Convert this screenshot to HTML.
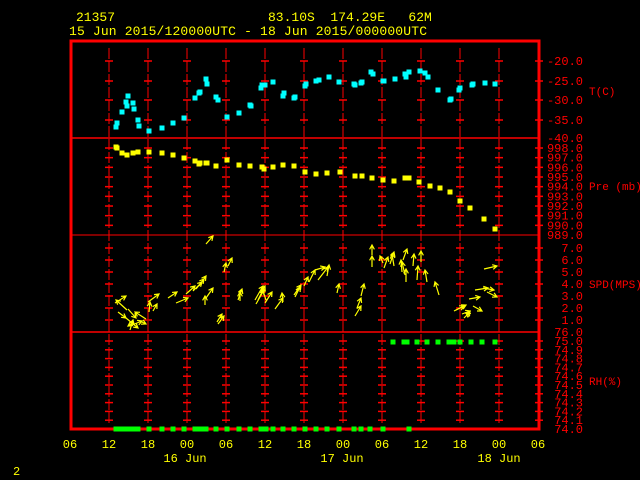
<!DOCTYPE html>
<html><head><style>
body{margin:0;background:#000;width:640px;height:480px;overflow:hidden}
svg{display:block}
text{font-family:"Liberation Mono",monospace;font-size:12px}
.t{font-size:13px}
.r{font-size:11px}
</style></head><body>
<svg width="640" height="480" viewBox="0 0 640 480" xmlns="http://www.w3.org/2000/svg">
<g fill="#ffff00" class="t">
<text x="76" y="21" class="t">21357</text>
<text x="268" y="21" class="t" xml:space="preserve">83.10S  174.29E   62M</text>
<text x="69" y="35" class="t" textLength="358">15 Jun 2015/120000UTC - 18 Jun 2015/000000UTC</text>
<text x="13" y="475">2</text>
</g>
<g stroke="#ff0000" fill="none">
<rect x="71" y="41" width="468" height="388" stroke-width="3"/>
<line x1="71" y1="138" x2="539" y2="138" stroke-width="1.5"/>
<line x1="71" y1="235" x2="539" y2="235" stroke-width="1"/>
<line x1="71" y1="332" x2="539" y2="332" stroke-width="1.5"/>
<g stroke-width="1" stroke-dasharray="11,2">
<line x1="109" y1="48" x2="109" y2="425"/>
<line x1="148" y1="48" x2="148" y2="425"/>
<line x1="187" y1="48" x2="187" y2="425"/>
<line x1="226" y1="48" x2="226" y2="425"/>
<line x1="265" y1="48" x2="265" y2="425"/>
<line x1="304" y1="48" x2="304" y2="425"/>
<line x1="343" y1="48" x2="343" y2="425"/>
<line x1="382" y1="48" x2="382" y2="425"/>
<line x1="421" y1="48" x2="421" y2="425"/>
<line x1="460" y1="48" x2="460" y2="425"/>
<line x1="499" y1="48" x2="499" y2="425"/>
</g>
</g>
<g id="ticks" stroke="#ff0000" stroke-width="1.5"></g>
<g fill="#ff0000" text-anchor="end" id="lab"></g>
<g fill="#ff0000">
<text x="589" y="95" class="r">T(C)</text>
<text x="589" y="190" class="r">Pre (mb)</text>
<text x="589" y="288" class="r">SPD(MPS)</text>
<text x="589" y="385" class="r">RH(%)</text>
</g>
<g fill="#ffff00" text-anchor="middle">
<text x="70" y="448">06</text><text x="109" y="448">12</text><text x="148" y="448">18</text>
<text x="187" y="448">00</text><text x="226" y="448">06</text><text x="265" y="448">12</text>
<text x="304" y="448">18</text><text x="343" y="448">00</text><text x="382" y="448">06</text>
<text x="421" y="448">12</text><text x="460" y="448">18</text><text x="499" y="448">00</text>
<text x="538" y="448">06</text>
<text x="185" y="462">16 Jun</text><text x="342" y="462">17 Jun</text><text x="499" y="462">18 Jun</text>
</g>
<g id="pts"></g>
<g id="arr" stroke="#ffff00" stroke-width="1.2" fill="none"></g>
</svg>
<script>
const NS="http://www.w3.org/2000/svg";
function el(p,t,a){const e=document.createElementNS(NS,t);for(const k in a)e.setAttribute(k,a[k]);document.getElementById(p).appendChild(e);return e;}
const xs=[109,148,187,226,265,304,343,382,421,460,499,539];
const ty=[61,81,100,120];
const py=[];for(let i=0;i<9;i++)py.push(148+i*9.67);
const sy=[];for(let i=0;i<7;i++)sy.push(248+i*12);
const ry=[];for(let i=0;i<10;i++)ry.push(341+i*8.8);
[...ty,...py,...sy,...ry].forEach(y=>xs.forEach(x=>el("ticks","line",{x1:x-4,x2:x+4,y1:y,y2:y})));
function lab(y,t){const e=el("lab","text",{x:583,y:y+4});e.textContent=t;}
["-20.0","-25.0","-30.0","-35.0"].forEach((t,i)=>lab(ty[i],t));lab(138,"-40.0");
[998,997,996,995,994,993,992,991,990].forEach((v,i)=>lab(py[i],v+".0"));lab(235,"989.0");
[7,6,5,4,3,2,1].forEach((v,i)=>lab(sy[i],v+".0"));lab(332,"76.0");
["75.0","74.9","74.8","74.7","74.6","74.5","74.4","74.3","74.2","74.1"].forEach((t,i)=>lab(ry[i],t));lab(429,"74.0");
function sq(x,y,c){el("pts","rect",{x:x-2.5,y:y-2.5,width:5,height:5,fill:c});}
[[116,127],[117,123],[122,112],[127,106],[126,102],[128,96],[133,103],[134,109],[138,120],[139,126],[149,131],[162,128],[173,123],[184,118],[195,98],[199,93],[200,92],[206,79],[207,84],[216,97],[218,100],[227,117],[239,113],[250,105],[251,106],[261,88],[262,85],[265,85],[273,82],[283,96],[284,93],[294,98],[295,97],[305,86],[306,84],[316,81],[319,80],[329,77],[339,82],[354,84],[355,85],[361,83],[362,82],[371,72],[373,74],[383,81],[384,81],[395,79],[405,74],[406,77],[409,72],[420,71],[425,73],[428,77],[438,90],[450,100],[451,99],[459,90],[460,88],[472,85],[473,84],[485,83],[495,84]].forEach(p=>sq(p[0],p[1],"#00ffff"));
[[116,147],[117,148],[122,153],[127,155],[133,153],[138,152],[149,152],[162,153],[173,155],[184,158],[195,161],[199,164],[200,163],[206,163],[207,163],[216,166],[227,160],[239,165],[250,166],[262,167],[264,169],[273,167],[283,165],[294,166],[305,172],[316,174],[327,173],[340,172],[355,176],[362,176],[372,178],[383,180],[394,181],[405,178],[409,178],[419,182],[430,186],[440,188],[450,192],[460,201],[470,208],[484,219],[495,229]].forEach(p=>sq(p[0],p[1],"#ffff00"));
[116,120,124,127,131,134,138,149,162,173,184,195,198,202,206,216,227,239,250,261,263,266,273,283,294,305,316,327,339,354,361,370,383,409].forEach(x=>sq(x,429,"#00ff00"));
[393,404,407,417,427,438,449,454,460,471,482,495].forEach(x=>sq(x,342,"#00ff00"));
function arrow(x1,y1,x2,y2){const a=Math.atan2(y2-y1,x2-x1),h=5;
el("arr","path",{d:`M${x1},${y1}L${x2},${y2}M${x2-h*Math.cos(a-0.5)},${y2-h*Math.sin(a-0.5)}L${x2},${y2}L${x2-h*Math.cos(a+0.5)},${y2-h*Math.sin(a+0.5)}`});}
[[127,310,116,300],[118,312,126,318],[115,303,126,296],[132,325,142,321],[130,330,133,320],[134,322,128,326],[126,318,138,328],[128,309,136,318],[140,321,146,324],[146,319,135,312],[168,298,177,292],[149,312,150,302],[153,311,157,304],[176,303,188,298],[148,302,159,294],[186,294,195,286],[193,291,202,282],[196,289,204,279],[199,286,206,276],[205,305,205,296],[206,298,213,288],[206,244,213,236],[224,272,226,263],[228,266,232,258],[217,322,222,314],[218,324,224,316],[240,301,240,292],[238,300,242,289],[255,300,263,286],[258,300,265,286],[256,304,264,290],[265,303,272,292],[266,300,262,288],[275,309,283,298],[283,302,282,293],[295,297,300,287],[294,295,301,285],[304,286,308,277],[309,282,315,270],[315,270,325,267],[318,280,328,267],[327,276,329,265],[337,293,339,284],[355,316,361,306],[357,308,361,298],[361,296,364,284],[372,267,372,256],[372,255,372,245],[384,268,388,257],[383,263,380,256],[390,264,394,252],[394,266,392,254],[402,272,401,260],[403,260,407,249],[406,282,406,269],[405,275,402,262],[413,266,414,254],[417,280,418,266],[421,262,421,251],[427,282,425,270],[439,295,435,282],[454,311,466,305],[456,310,464,306],[462,314,470,311],[464,318,470,312],[470,316,466,313],[473,306,482,311],[469,299,480,297],[475,290,488,288],[483,288,494,290],[487,292,497,297],[484,269,497,266]].forEach(a=>arrow(...a));
</script>
</body></html>
